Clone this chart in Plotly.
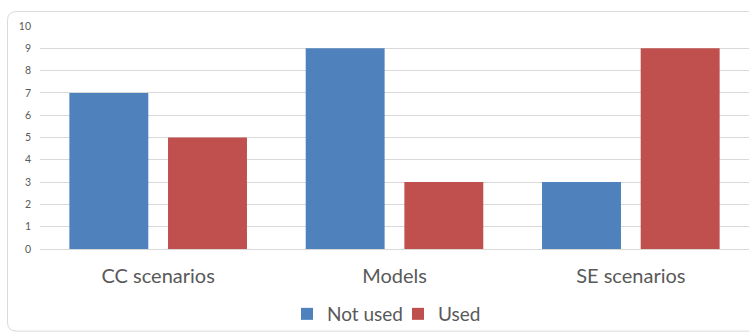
import plotly.graph_objects as go

categories = ["CC scenarios", "Models", "SE scenarios"]
not_used = [7, 9, 3]
used = [5, 3, 9]
y_ticks = list(range(0, 11))

W, H = 749, 333
L, R, T, B = 40, 0, 26, 83
pw, ph = W - L - R, H - T - B

def px(x):
    return (x - L) / pw

def py(y):
    return 1 - (y - T) / ph

fig = go.Figure()
fig.add_trace(go.Bar(name="Not used", x=categories, y=not_used,
                     marker=dict(color="#4F81BD", line=dict(width=0))))
fig.add_trace(go.Bar(name="Used", x=categories, y=used,
                     marker=dict(color="#C0504D", line=dict(width=0))))

# rounded border of chart area
x0, y0, x1, y1 = px(7.5), py(11.5), px(760), py(332.5)
rx, ry = 9 / pw, 9 / ph
path = (f"M {x0},{y0 - ry} L {x0},{y1 + ry} Q {x0},{y1} {x0 + rx},{y1} "
        f"L {x1},{y1} L {x1},{y0} L {x0 + rx},{y0} Q {x0},{y0} {x0},{y0 - ry} Z")

fig.update_layout(
    width=W, height=H,
    margin=dict(l=L, r=R, t=T, b=B),
    paper_bgcolor="white", plot_bgcolor="white",
    font=dict(family="Lato, Carlito, sans-serif", color="#595959"),
    barmode="group", bargap=0.165, bargroupgap=0.2,
    showlegend=True,
    legend=dict(orientation="h", x=px(398), xanchor="center", y=py(315),
                yanchor="middle", font=dict(size=19, color="#595959"),
                itemwidth=30, entrywidth=66, entrywidthmode="pixels",
                bgcolor="rgba(0,0,0,0)", traceorder="normal"),
    xaxis=dict(showgrid=False, showline=False, zeroline=False,
               tickfont=dict(size=20, color="#595959"), ticks="outside",
               ticklen=0, ticklabelstandoff=9),
    yaxis=dict(range=[0, 10], tickvals=y_ticks, showgrid=True,
               gridcolor="#D9D9D9", gridwidth=1, zeroline=True,
               zerolinecolor="#D9D9D9", zerolinewidth=1, showline=False,
               tickfont=dict(size=10.5, color="#595959"),
               ticklabelstandoff=8),
    shapes=[dict(type="path", xref="paper", yref="paper", path=path,
                 line=dict(color="#D9D9D9", width=1), layer="below")],
)

fig.write_html("out.html")
